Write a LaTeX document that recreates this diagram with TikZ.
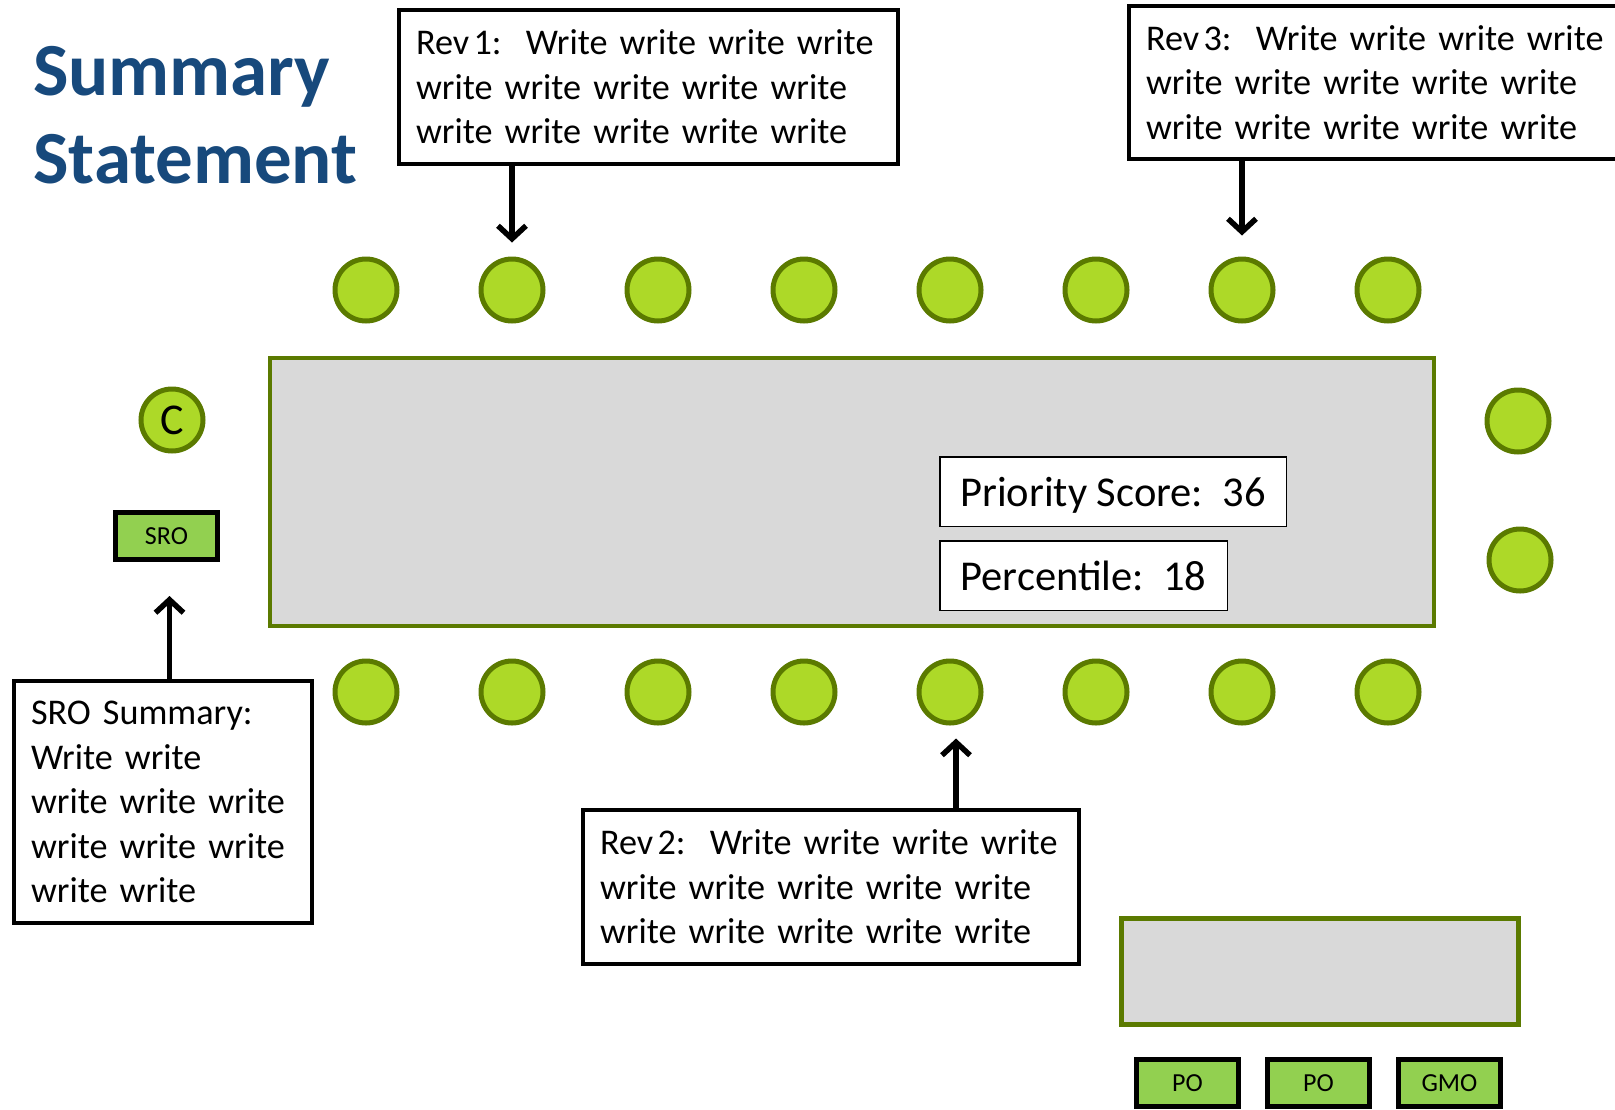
\documentclass[tikz,border=0pt]{standalone}
\usepackage{fontspec}
\setmainfont{Carlito}
\frenchspacing
\definecolor{sBlue}{HTML}{17497C}
\definecolor{sSeat}{HTML}{ADD928}
\definecolor{sOlive}{HTML}{5B7A00}
\definecolor{sTag}{HTML}{92D050}
\definecolor{sTable}{HTML}{D9D9D9}
\usetikzlibrary{arrows.meta, positioning}
\newcommand{\revfont}{\fontsize{36.2}{44.5}\selectfont}

\begin{document}
\begin{tikzpicture}[x=1pt, y=-1pt,
  seat/.style={circle, draw=sOlive, line width=5pt, fill=sSeat,
               minimum size=62pt, inner sep=0pt, font=\fontsize{44}{50}\selectfont},
  tag/.style={draw=black, line width=5pt, fill=sTag, minimum width=102pt,
              minimum height=47pt, inner sep=0pt, font=\fontsize{26}{30}\selectfont},
  board/.style={draw=sOlive, line width=4pt, fill=sTable, inner sep=0pt},
  note/.style={draw=black, line width=4pt, fill=white, anchor=north west, align=left,
               inner xsep=17pt, inner ysep=0pt, text width=#1, font=\revfont},
  score/.style={draw=black, line width=1.5pt, fill=white, inner xsep=0pt,
                minimum height=69.5pt, text height=30pt, text depth=0pt,
                font=\fontsize{42.5}{48}\selectfont},
  arr/.style={-{Straight Barb[length=13pt, width=28pt, line width=5.5pt]}, line width=5.5pt}]
  \useasboundingbox (0,0) rectangle (1615,1109);
  % title
  \node[anchor=base west, inner sep=0pt, text=sBlue,
        font=\fontsize{75}{88}\selectfont\bfseries] (title) at (33,95) {Summary};
  \node[anchor=base west, inner sep=0pt, text=sBlue,
        font=\fontsize{75}{88}\selectfont\bfseries] (title2) at (33,183) {Statement};
  % tables
  \node[board, minimum width=1164pt, minimum height=268pt] (table) at (852,492) {};
  \node[board, line width=4.5pt, minimum width=397pt, minimum height=106pt] (side) at (1320,971.5) {};
  \node[score, minimum width=346.5pt, anchor=north west] (prio) at (939,456) {Priority Score:\ \ 36};
  \node[score, minimum width=287.5pt, below right=13pt and 0pt of prio.south west] (pct) {Percentile:\ \ 18};
  % seats
  \foreach \i in {0,...,7}{
    \node[seat] (top\i) at ({366+146*\i},290) {};
    \node[seat] (bot\i) at ({366+146*\i},692) {};
  }
  \node[seat] (cseat) at (172,420) {C};
  \node[seat] (rseat1) at (1518,421) {};
  \node[seat] (rseat2) at (1520,560) {};
  \node[tag] (sro) at (166.5,536) {SRO};
  \node[tag] (po1) at (1187.5,1083) {PO};
  \node[tag, right=24pt of po1] (po2) {PO};
  \node[tag, right=24pt of po2] (gmo) {GMO};
  % reviewer notes
  \node[note=465pt, minimum height=154pt] (rev1) at (397,8)
       {Rev\kern.12em 1:\ \ Write write write write\\write write write write write\\write write write write write};
  \node[note=462pt, minimum height=154pt] (rev2) at (581,808)
       {Rev\kern.12em 2:\ \ Write write write write\\write write write write write\\write write write write write};
  \node[note=490pt, minimum height=153pt] (rev3) at (1127,4)
       {Rev\kern.12em 3:\ \ Write write write write\\write write write write write\\write write write write write};
  \node[note=264pt, minimum height=242pt] (summ) at (12,679)
       {SRO Summary:\\Write write\\write write write\\write write write\\write write};
  \draw[arr, shorten >=14pt] (rev1.south -| top1) -- (top1.north);
  \draw[arr, shorten >=21pt] (rev3.south -| top6) -- (top6.north);
  \draw[arr, shorten >=13pt] ([xshift=6pt]rev2.north -| bot4) -- ([xshift=6pt]bot4.south);
  \draw[arr, shorten >=34pt] ([xshift=3pt]summ.north -| sro) -- ([xshift=3pt]sro.south);
\end{tikzpicture}
\end{document}
